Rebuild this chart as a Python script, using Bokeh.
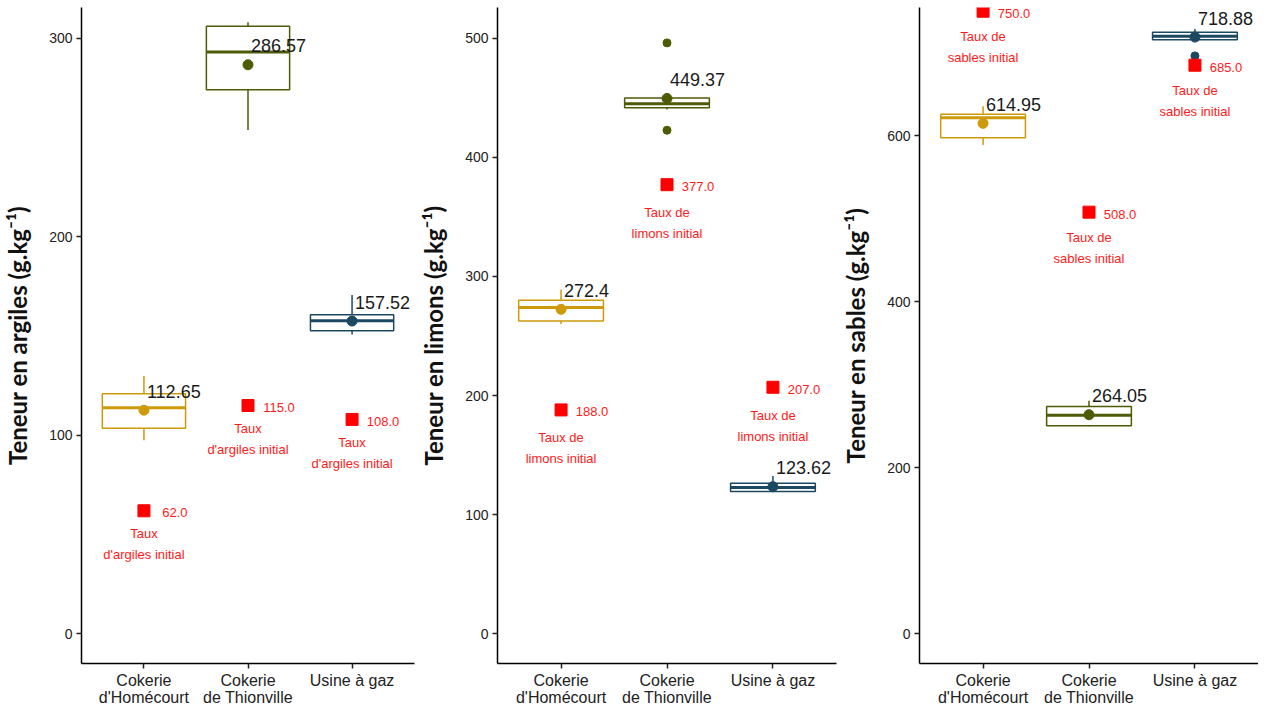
from bokeh.plotting import figure
from bokeh.layouts import row
from bokeh.models import Range1d, FixedTicker
from bokeh.core.properties import value
from bokeh.embed import file_html
from bokeh.resources import INLINE

# ---------------- data ----------------
sites = ["Cokerie\nd'Homécourt", "Cokerie\nde Thionville", "Usine à gaz"]
site_colors = ["#CC9A0A", "#4E5A04", "#1D4862"]

# argiles
arg_mean = [112.65, 286.57, 157.52]
arg_q1 = [103.5, 274.0, 152.7]
arg_med = [113.9, 293.0, 157.7]
arg_q3 = [120.9, 306.0, 160.7]
arg_low = [97.5, 253.7, 150.7]
arg_high = [129.9, 308.0, 170.6]
arg_init = [62.0, 115.0, 108.0]
arg_out_site = []
arg_out_val = []

# limons
lim_mean = [272.4, 449.37, 123.62]
lim_q1 = [262.7, 441.5, 119.5]
lim_med = [274.0, 445.0, 122.8]
lim_q3 = [280.0, 449.8, 126.4]
lim_low = [260.0, 440.0, 119.0]
lim_high = [289.0, 452.0, 132.5]
lim_init = [188.0, 377.0, 207.0]
lim_out_site = [2, 2]
lim_out_val = [496.0, 422.7]

# sables
sab_mean = [614.95, 264.05, 718.88]
sab_q1 = [597.6, 250.7, 715.6]
sab_med = [621.8, 263.4, 720.0]
sab_q3 = [625.8, 274.0, 724.7]
sab_low = [589.0, 250.0, 715.0]
sab_high = [635.6, 281.0, 728.7]
sab_init = [750.0, 508.0, 685.0]
sab_out_site = [3]
sab_out_val = [696.2]

arg_ticks = [0, 100, 200, 300]
lim_ticks = [0, 100, 200, 300, 400, 500]
sab_ticks = [0, 200, 400, 600]

FONT = "Liberation Sans"


def panel(ylabel, mean, q1, med, q3, low, high, init, out_site, out_val,
          lab1, lab2, yr, yticks, left_border, right_border, taux_off):
    xs = list(range(1, len(sites) + 1))
    p = figure(width=left_border + 339 + right_border, height=708,
               output_backend="svg", toolbar_location=None,
               x_range=Range1d(0.4, 3.6), y_range=Range1d(*yr),
               min_border_left=left_border, min_border_right=right_border,
               min_border_top=7, min_border_bottom=30)
    p.outline_line_color = None
    p.xgrid.visible = False
    p.ygrid.visible = False
    p.background_fill_color = "white"
    p.border_fill_color = "white"

    bw = 0.8
    # whiskers
    p.segment(x0=xs, y0=q3, x1=xs, y1=high, line_color=site_colors, line_width=1.5)
    p.segment(x0=xs, y0=q1, x1=xs, y1=low, line_color=site_colors, line_width=1.5)
    # boxes
    p.vbar(x=xs, width=bw, bottom=q1, top=q3, fill_color="white",
           line_color=site_colors, line_width=1.5)
    # medians
    p.segment(x0=[x - bw / 2 for x in xs], y0=med, x1=[x + bw / 2 for x in xs], y1=med,
              line_color=site_colors, line_width=3)
    # outliers
    if out_site:
        p.scatter(x=out_site, y=out_val, marker="circle", size=8,
                  fill_color=[site_colors[s - 1] for s in out_site],
                  line_color=[site_colors[s - 1] for s in out_site])
    # means
    p.scatter(x=xs, y=mean, marker="circle", size=10, fill_color=site_colors,
              line_color=site_colors)
    p.text(x=xs, y=mean, text=[str(round(m, 2)) for m in mean], x_offset=3, y_offset=-19,
           text_font=value(FONT), text_font_size="18px", text_color="#1a1a1a",
           text_baseline="middle", text_align="left")
    # initial values
    p.scatter(x=xs, y=init, marker="square", size=12, fill_color="#FF0000",
              line_color="#FF0000")
    p.text(x=xs, y=init, text=[f"{v:.1f}" for v in init], x_offset=31, y_offset=2,
           text_font=value(FONT), text_font_size="13px", text_color="#FF1A1A",
           text_baseline="middle", text_align="center")
    p.text(x=xs, y=init, text=[lab1] * 3, x_offset=0, y_offset=taux_off,
           text_font=value(FONT), text_font_size="13px", text_color="#FF1A1A",
           text_baseline="middle", text_align="center")
    p.text(x=xs, y=init, text=[lab2] * 3, x_offset=0, y_offset=taux_off + 21,
           text_font=value(FONT), text_font_size="13px", text_color="#FF1A1A",
           text_baseline="middle", text_align="center")

    # axes
    p.xaxis.ticker = FixedTicker(ticks=xs)
    p.xaxis.major_label_overrides = {x: s for x, s in zip(xs, sites)}
    p.yaxis.ticker = FixedTicker(ticks=yticks)
    for ax in (p.xaxis[0], p.yaxis[0]):
        ax.axis_line_color = "black"
        ax.axis_line_width = 1.5
        ax.major_tick_line_color = "#222222"
        ax.major_tick_line_width = 1.5
        ax.major_tick_in = 0
        ax.major_tick_out = 5
        ax.minor_tick_line_color = None
        ax.major_label_text_font = FONT
        ax.major_label_text_color = "#222222"
        ax.major_label_standoff = 4
    p.xaxis.major_label_standoff = 3
    p.xaxis.major_label_text_line_height = 1.0
    p.xaxis.major_label_text_font_size = "16px"
    p.yaxis.major_label_text_font_size = "14px"
    p.yaxis.axis_label = ylabel
    p.yaxis.axis_label_text_font = "Lato"
    p.yaxis.axis_label_text_font_style = "bold"
    p.yaxis.axis_label_text_font_size = "24px"
    p.yaxis.axis_label_text_color = "#111111"
    p.yaxis.axis_label_standoff = 14
    return p


p1 = panel("Teneur en argiles (g.kg⁻¹)", arg_mean, arg_q1, arg_med, arg_q3, arg_low,
           arg_high, arg_init, arg_out_site, arg_out_val, "Taux", "d'argiles initial",
           (-14.9, 315.4), arg_ticks, 75, 2, 23)
p2 = panel("Teneur en limons (g.kg⁻¹)", lim_mean, lim_q1, lim_med, lim_q3, lim_low,
           lim_high, lim_init, lim_out_site, lim_out_val, "Taux de", "limons initial",
           (-24.8, 525.7), lim_ticks, 81, 2, 28)
p3 = panel("Teneur en sables (g.kg⁻¹)", sab_mean, sab_q1, sab_med, sab_q3, sab_low,
           sab_high, sab_init, sab_out_site, sab_out_val, "Taux de", "sables initial",
           (-35.6, 754.5), sab_ticks, 81, 0, 25)

layout = row(p1, p2, p3)
open("out.html", "w").write(file_html(layout, INLINE))
